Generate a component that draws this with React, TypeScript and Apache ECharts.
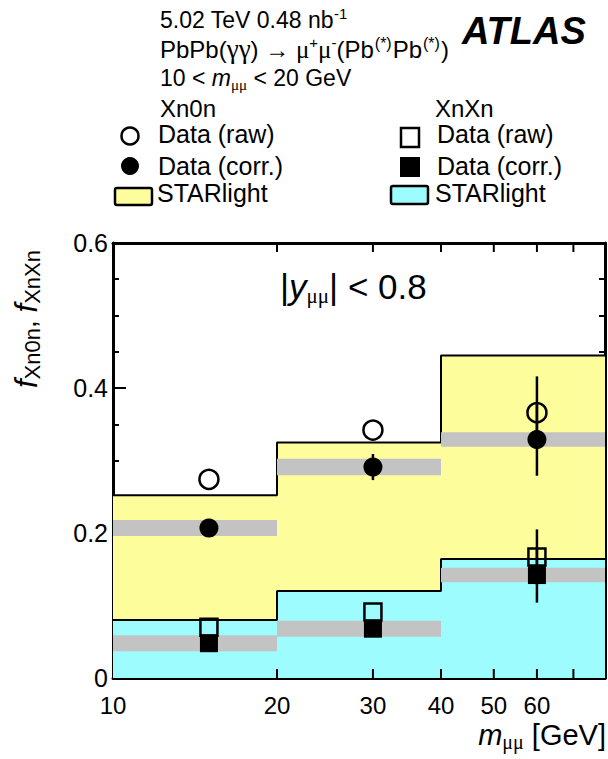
import React, { useEffect, useRef } from "react";
import * as echarts from "echarts";

// Bin edges and bin centres of the dimuon mass histogram (GeV)
const binEdges = [10, 20, 40, 80];
const binCenters = [15, 30, 60];

// STARlight predictions per bin
const starlightXn0n = [0.252, 0.325, 0.445];
const starlightXnXn = [0.08, 0.12, 0.164];

// Measured fractions
const rawXn0n = [0.274, 0.342, 0.366];
const corrXn0n = [0.207, 0.291, 0.329];
const rawXnXn = [0.07, 0.091, 0.167];
const corrXnXn = [0.048, 0.068, 0.142];

// Statistical errors
const errRawXn0n = [0, 0, 0.05];
const errCorrXn0n = [0, 0.018, 0.05];
const errRawXnXn = [0, 0, 0.038];
const errCorrXnXn = [0, 0, 0.038];

// Half-widths of the grey systematic bands
const sysXn0n = [0.011, 0.0115, 0.01];
const sysXnXn = [0.011, 0.011, 0.01];

// Axis ticks
const xTickValues = [20, 30, 40, 50, 60, 70];
const xTickLabels = [10, 20, 30, 40, 50, 60];
const yMin = 0;
const yMax = 0.6;
const yInterval = 0.2;

const FONT = "'Liberation Sans', Arial, Helvetica, sans-serif";
const SERIF = "'Liberation Serif', 'Times New Roman', serif";

const YELLOW = "#fdfd9c";
const CYAN = "#9dfcfd";
const GREY = "#c3c3c3";

function stepData(vals: number[]) {
  return binEdges.map((e, i) => [e, vals[Math.min(i, vals.length - 1)]]);
}

function bandData(center: number[], half: number[]) {
  return center.map((c, i) => [binEdges[i], binEdges[i + 1], c - half[i], c + half[i]]);
}

function errData(vals: number[][]) {
  const out: number[][] = [];
  vals.forEach(([v, e], i) => {
    if (e > 0) out.push([binCenters[i], v - e, v + e]);
  });
  return out;
}

const headRich = {
  n: { fontSize: 23, fontFamily: FONT, lineHeight: 28 },
  w: { fontSize: 24, fontFamily: FONT, lineHeight: 28 },
  g: { fontSize: 27, fontFamily: SERIF, lineHeight: 28 },
  m: { fontSize: 25, fontFamily: SERIF, lineHeight: 28 },
  i: { fontSize: 23, fontFamily: FONT, fontStyle: "italic", lineHeight: 28 },
  sub: { fontSize: 15, fontFamily: SERIF, lineHeight: 9, verticalAlign: "bottom" },
  sup: { fontSize: 15, fontFamily: FONT, lineHeight: 9, verticalAlign: "top" },
  sup2: { fontSize: 16, fontFamily: FONT, lineHeight: 9, verticalAlign: "top", padding: [0, 1, 0, 1] },
};

function text(x: number, y: number, t: string, extra: any = {}) {
  return {
    type: "text",
    x,
    y,
    silent: true,
    style: {
      text: t,
      fill: "#000",
      fontSize: 25,
      fontFamily: FONT,
      align: "left",
      verticalAlign: "middle",
      ...extra,
    },
  };
}

export default function App() {
  const ref = useRef<HTMLDivElement>(null);

  useEffect(() => {
    if (!ref.current) return;
    const chart = echarts.init(ref.current, null, { renderer: "svg" });

    const axisLineStyle = { color: "#000", width: 3 };
    const yAxisBase = {
      type: "value",
      min: yMin,
      max: yMax,
      interval: yInterval,
      axisLine: { show: true, lineStyle: axisLineStyle },
      axisTick: { show: true, inside: true, length: 13, lineStyle: { color: "#000", width: 2 } },
      minorTick: { show: true, splitNumber: 4, length: 6, lineStyle: { color: "#000", width: 2 } },
      splitLine: { show: false },
      minorSplitLine: { show: false },
    };
    const xAxisBase = {
      type: "log",
      logBase: 10,
      min: 10,
      max: 80,
      axisLine: { show: true, onZero: false, lineStyle: axisLineStyle },
      axisTick: { show: false },
      axisLabel: { show: false },
      splitLine: { show: false },
      minorTick: { show: false },
    };

    const scatterStyle = (open: boolean) => ({
      color: open ? "rgba(0,0,0,0)" : "#000",
      borderColor: "#000",
      borderWidth: open ? 2.5 : 0,
      opacity: 1,
    });

    const option: any = {
      animation: false,
      grid: { left: 113, right: 3, top: 243, bottom: 81 },
      xAxis: [
        { ...xAxisBase, position: "bottom" },
        { ...xAxisBase, position: "top" },
      ],
      yAxis: [
        {
          ...yAxisBase,
          position: "left",
          axisLabel: { show: true, fontSize: 25, color: "#000", fontFamily: FONT, margin: 5 },
        },
        { ...yAxisBase, position: "right", axisLabel: { show: false } },
      ],
      series: [
        {
          type: "line",
          step: "end",
          data: stepData(starlightXn0n),
          symbol: "none",
          lineStyle: { color: "#000", width: 2 },
          areaStyle: { color: YELLOW, opacity: 1 },
          z: 2,
        },
        {
          type: "line",
          step: "end",
          data: stepData(starlightXnXn),
          symbol: "none",
          lineStyle: { color: "#000", width: 2 },
          areaStyle: { color: CYAN, opacity: 1 },
          z: 2,
        },
        {
          type: "custom",
          data: [...bandData(corrXn0n, sysXn0n), ...bandData(corrXnXn, sysXnXn)],
          encode: { x: [0, 1], y: [2, 3] },
          z: 3,
          renderItem: (_p: any, api: any) => {
            const a = api.coord([api.value(0), api.value(3)]);
            const b = api.coord([api.value(1), api.value(2)]);
            return {
              type: "rect",
              shape: { x: a[0], y: a[1], width: b[0] - a[0], height: b[1] - a[1] },
              style: { fill: GREY },
            };
          },
        },
        {
          type: "custom",
          data: [
            ...errData(rawXn0n.map((v, i) => [v, errRawXn0n[i]])),
            ...errData(corrXn0n.map((v, i) => [v, errCorrXn0n[i]])),
            ...errData(rawXnXn.map((v, i) => [v, errRawXnXn[i]])),
            ...errData(corrXnXn.map((v, i) => [v, errCorrXnXn[i]])),
          ],
          encode: { x: 0, y: [1, 2] },
          z: 4,
          renderItem: (_p: any, api: any) => {
            const lo = api.coord([api.value(0), api.value(1)]);
            const hi = api.coord([api.value(0), api.value(2)]);
            return {
              type: "line",
              shape: { x1: lo[0], y1: lo[1], x2: hi[0], y2: hi[1] },
              style: { stroke: "#000", lineWidth: 2.5 },
            };
          },
        },
        {
          type: "scatter",
          data: binCenters.map((x, i) => [x, corrXn0n[i]]),
          symbol: "circle",
          symbolSize: 19,
          itemStyle: scatterStyle(false),
          z: 5,
        },
        {
          type: "scatter",
          data: binCenters.map((x, i) => [x, rawXn0n[i]]),
          symbol: "circle",
          symbolSize: 19,
          itemStyle: scatterStyle(true),
          z: 5,
        },
        {
          type: "scatter",
          data: binCenters.map((x, i) => [x, corrXnXn[i]]),
          symbol: "rect",
          symbolSize: 18,
          itemStyle: scatterStyle(false),
          z: 5,
        },
        {
          type: "scatter",
          data: binCenters.map((x, i) => [x, rawXnXn[i]]),
          symbol: "rect",
          symbolSize: 17,
          itemStyle: scatterStyle(true),
          z: 5,
        },
        // x-axis ticks (bottom and top frame) on the log scale
        {
          type: "custom",
          data: xTickValues.map((v) => [v, yMin]),
          encode: { x: 0, y: 1 },
          z: 6,
          silent: true,
          renderItem: (_p: any, api: any) => {
            const b = api.coord([api.value(0), yMin]);
            const t = api.coord([api.value(0), yMax]);
            return {
              type: "group",
              children: [
                { type: "line", shape: { x1: b[0], y1: b[1], x2: b[0], y2: b[1] - 9 }, style: { stroke: "#000", lineWidth: 2 } },
                { type: "line", shape: { x1: t[0], y1: t[1], x2: t[0], y2: t[1] + 9 }, style: { stroke: "#000", lineWidth: 2 } },
              ],
            };
          },
        },
        // x-axis tick labels
        {
          type: "custom",
          data: xTickLabels.map((v) => [v, yMin]),
          encode: { x: 0, y: 1 },
          z: 6,
          silent: true,
          renderItem: (_p: any, api: any) => {
            const b = api.coord([api.value(0), yMin]);
            return {
              type: "text",
              x: b[0],
              y: b[1] + 15,
              style: {
                text: String(api.value(0)),
                fill: "#000",
                fontSize: 24,
                fontFamily: FONT,
                align: "center",
                verticalAlign: "top",
              },
            };
          },
        },
      ],
      graphic: [
        text(160, 20, "{n|5.02 TeV 0.48 nb}{sup|-1}", { rich: headRich }),
        text(160, 49, "{w|PbPb(}{g|γγ}{w|) → }{m|μ}{sup|+}{m|μ}{sup|-}{w|(Pb}{sup2|(*)}{w|Pb}{sup2|(*)}{w|)}", { rich: headRich }),
        text(160, 78, "{n|10 < }{i|m}{sub|μμ}{n| < 20 GeV}", { rich: headRich }),
        text(462, 31, "ATLAS", { fontSize: 38, fontWeight: "bold", fontStyle: "italic" }),

        text(160, 108, "Xn0n", { fontSize: 24 }),
        { type: "circle", silent: true, shape: { cx: 130, cy: 136, r: 8.5 }, style: { fill: "none", stroke: "#000", lineWidth: 2.5 } },
        text(158, 134, "Data (raw)"),
        { type: "circle", silent: true, shape: { cx: 130, cy: 166, r: 9 }, style: { fill: "#000" } },
        text(158, 166, "Data (corr.)"),
        { type: "rect", silent: true, shape: { x: 115, y: 188, width: 37, height: 17, r: 2 }, style: { fill: YELLOW, stroke: "#000", lineWidth: 2.5 } },
        text(157, 193, "STARlight"),

        text(435, 108, "XnXn", { fontSize: 24 }),
        { type: "rect", silent: true, shape: { x: 401, y: 128, width: 18, height: 19 }, style: { fill: "none", stroke: "#000", lineWidth: 2.5 } },
        text(437, 134, "Data (raw)"),
        { type: "rect", silent: true, shape: { x: 400, y: 157, width: 20, height: 20 }, style: { fill: "#000" } },
        text(437, 166, "Data (corr.)"),
        { type: "rect", silent: true, shape: { x: 391, y: 186, width: 37, height: 18, r: 2 }, style: { fill: CYAN, stroke: "#000", lineWidth: 2.5 } },
        text(435, 193, "STARlight"),

        text(280, 286, "{n||}{i|y}{s|μμ}{n|| < 0.8}", {
          rich: {
            n: { fontSize: 35, fontFamily: FONT, lineHeight: 40 },
            i: { fontSize: 35, fontFamily: FONT, fontStyle: "italic", lineHeight: 40 },
            s: { fontSize: 21, fontFamily: SERIF, lineHeight: 12, verticalAlign: "bottom" },
          },
        }),

        text(606, 735, "{i|m}{s|μμ}{n| [GeV]}", {
          align: "right",
          rich: {
            n: { fontSize: 29, fontFamily: FONT, lineHeight: 34 },
            i: { fontSize: 29, fontFamily: FONT, fontStyle: "italic", lineHeight: 34 },
            s: { fontSize: 20, fontFamily: SERIF, lineHeight: 10, verticalAlign: "bottom" },
          },
        }),

        {
          type: "text",
          silent: true,
          x: 26,
          y: 319,
          rotation: Math.PI / 2,
          style: {
            text: "{f|f}{s|Xn0n}{c|, }{f|f}{s|XnXn}",
            fill: "#000",
            align: "center",
            verticalAlign: "middle",
            rich: {
              f: { fontSize: 31, fontFamily: FONT, fontStyle: "italic", lineHeight: 34 },
              c: { fontSize: 28, fontFamily: FONT, lineHeight: 34 },
              s: { fontSize: 22, fontFamily: FONT, lineHeight: 16, verticalAlign: "bottom" },
            },
          },
        },
      ],
    };

    chart.setOption(option);
    return () => chart.dispose();
  }, []);

  return (
    <div
      ref={ref}
      style={{ position: "fixed", left: 0, top: 0, width: 608, height: 759, background: "#fff" }}
    />
  );
}
